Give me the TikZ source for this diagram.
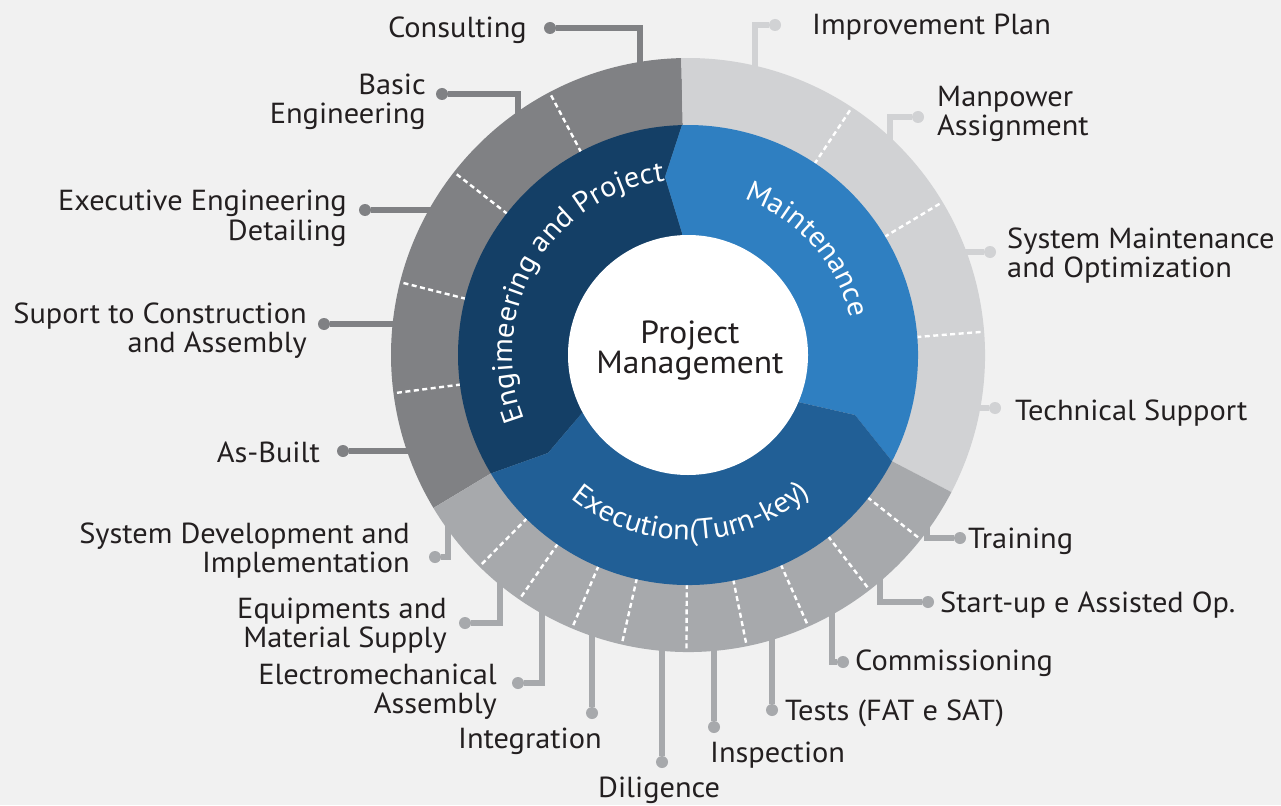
\documentclass[tikz,border=0pt]{standalone}
\usepackage{fontspec}
\setmainfont[FakeStretch=1.048]{PT Sans}
\usetikzlibrary{calc,decorations.text}
\definecolor{bg}{HTML}{F1F1F1}
\definecolor{dgray}{HTML}{808184}
\definecolor{lgray}{HTML}{D1D2D4}
\definecolor{mgray}{HTML}{A7A9AC}
\definecolor{engblue}{HTML}{143F66}
\definecolor{mntblue}{HTML}{2F7FC1}
\definecolor{exeblue}{HTML}{215F96}
\definecolor{txt}{HTML}{231F20}
\newcommand{\lblfont}{\fontsize{29}{29}\selectfont}
\newcommand{\pmfont}{\fontsize{32}{30}\selectfont}
\newcommand{\curvefont}{\fontsize{29}{29}\selectfont}
\begin{document}
\begin{tikzpicture}[x=1pt,y=1pt,
  lbl/.style={font=\lblfont, text=txt, inner sep=0pt, align=right, anchor=base east},
  lblr/.style={font=\lblfont, text=txt, inner sep=0pt, align=left, anchor=base west},
  lblc/.style={font=\pmfont, text=txt, inner sep=0pt, align=center, anchor=base},
  divider/.style={white, line width=2.4pt, dash pattern=on 5pt off 3.5pt},
  conn/.style={line width=6pt},
  dot/.style={circle, inner sep=0pt, minimum size=12pt},
  curve/.style={decorate, decoration={text along path, text align=center, text color=white}},
  ]
\useasboundingbox (0,0) rectangle (1281,-805);
\fill[bg] (0,0) rectangle (1281,-805);
\coordinate (c) at (688,-355);

% outer ring
\fill[dgray] (c) -- ++(91.3:297) arc[start angle=91.3, end angle=211, radius=297] -- cycle;
\fill[lgray] (c) -- ++(-27.5:297) arc[start angle=-27.5, end angle=91.3, radius=297] -- cycle;
\fill[mgray] (c) -- ++(211:297) arc[start angle=211, end angle=332.5, radius=297] -- cycle;
\foreach \a in {117.8,142,165.8,187.4,56.5,31,4.5,-38.4,-52.3,-66.1,-78.6,-90.3,-102.9,-113,-124.6,-134.6}
  \draw[divider] (c) ++(\a:229) -- ++(\a:67);

% inner ring
\fill[engblue] ($(c)+(91.5:230)$) arc[start angle=91.5, end angle=211, radius=230] -- (548,-453) -- (582,-413) -- (c) -- (682,-233) -- (665,-177) -- cycle;
\fill[mntblue] (c) -- (798,-402) -- (855,-415) -- ($(c)+(-27.5:230)$) arc[start angle=-27.5, end angle=91.5, radius=230] -- (665,-177) -- (682,-233) -- cycle;
\fill[exeblue] (c) -- (582,-413) -- (548,-453) -- ($(c)+(211:230)$) arc[start angle=211, end angle=332.5, radius=230] -- (855,-415) -- (798,-402) -- cycle;

\node[circle, fill=white, minimum size=240pt, inner sep=0pt] (pm) at (c) {};
\node[lblc] (pmtext) at (690,-373) {Project\\Management};

\path[curve, decoration={text={|\curvefont|Engimeering and Project}}] ($(c)+(222:176)$) arc[start angle=222, end angle=77, radius=176];
\path[curve, decoration={text={|\curvefont|Maintenance}}] ($(c)+(100:166)$) arc[start angle=100, end angle=-17, radius=166];
\path[curve, decoration={text={|\curvefont|Execution(Turn-key)}}] ($(c)+(-162:185)$) arc[start angle=-162, end angle=-16, radius=185];

% ---- Engineering connectors
\coordinate (r1) at (640,-68);  \node[dot, fill=dgray] (d1) at (550,-28) {};
\coordinate (r2) at (518,-118); \node[dot, fill=dgray] (d2) at (442,-94) {};
\coordinate (r3) at (436,-210); \node[dot, fill=dgray] (d3) at (365,-210) {};
\coordinate (r4) at (400,-324); \node[dot, fill=dgray] (d4) at (324,-324) {};
\coordinate (r5) at (414,-451); \node[dot, fill=dgray] (d5) at (343,-451) {};
\draw[conn, dgray] (r1) |- (d1);
\draw[conn, dgray] (r2) |- (d2);
\draw[conn, dgray] (r3) -- (d3);
\draw[conn, dgray] (r4) -- (d4);
\draw[conn, dgray] (r5) -- (d5);
\node[lbl] (l1) at (527,-38) {Consulting};
\node[lbl] (l2) at (426,-124) {Basic\\Engineering};
\node[lbl] (l3) at (347,-240) {Executive Engineering\\Detailing};
\node[lbl] (l4) at (307,-352) {Suport to Construction\\and Assembly};
\node[lbl] (l5) at (320,-462) {As-Built};

% ---- Maintenance connectors
\coordinate (r6) at (755,-72);  \node[dot, fill=lgray] (d6) at (775,-25) {};
\coordinate (r7) at (890,-143); \node[dot, fill=lgray] (d7) at (918,-117) {};
\coordinate (r8) at (958,-252); \node[dot, fill=lgray] (d8) at (990,-252) {};
\coordinate (r9) at (974,-408); \node[dot, fill=lgray] (d9) at (995,-408) {};
\draw[conn, lgray] (r6) |- (d6);
\draw[conn, lgray] (r7) |- (d7);
\draw[conn, lgray] (r8) -- (d8);
\draw[conn, lgray] (r9) -- (d9);
\node[lblr] (l6) at (812,-35) {Improvement Plan};
\node[lblr] (l7) at (937,-136) {Manpower\\Assignment};
\node[lblr] (l8) at (1007,-277) {System Maintenance\\and Optimization};
\node[lblr] (l9) at (1015,-420) {Technical Support};

% ---- Execution connectors
\coordinate (r10) at (927,-522); \node[dot, fill=mgray] (d10) at (960,-538) {};
\coordinate (r11) at (880,-574); \node[dot, fill=mgray] (d11) at (928,-602) {};
\coordinate (r12) at (832,-608); \node[dot, fill=mgray] (d12) at (843,-662) {};
\coordinate (r13) at (772,-634); \node[dot, fill=mgray] (d13) at (772,-710) {};
\coordinate (r14) at (714,-645); \node[dot, fill=mgray] (d14) at (714,-727) {};
\coordinate (r15) at (662,-645); \node[dot, fill=mgray] (d15) at (662,-762) {};
\coordinate (r16) at (592,-630); \node[dot, fill=mgray] (d16) at (592,-713) {};
\coordinate (r17) at (542,-608); \node[dot, fill=mgray] (d17) at (518,-683) {};
\coordinate (r18) at (500,-580); \node[dot, fill=mgray] (d18) at (465,-623) {};
\coordinate (r19) at (448,-520); \node[dot, fill=mgray] (d19) at (435,-557) {};
\draw[conn, mgray] (r10) |- (d10);
\draw[conn, mgray] (r11) |- (d11);
\draw[conn, mgray] (r12) |- (d12);
\draw[conn, mgray] (r13) -- (d13);
\draw[conn, mgray] (r14) -- (d14);
\draw[conn, mgray] (r15) -- (d15);
\draw[conn, mgray] (r16) -- (d16);
\draw[conn, mgray] (r17) |- (d17);
\draw[conn, mgray] (r18) |- (d18);
\draw[conn, mgray] (r19) |- (d19);
\node[lblr] (l10) at (968,-548) {Training};
\node[lblr] (l11) at (940,-612) {Start-up e Assisted Op.};
\node[lblr] (l12) at (855,-670) {Commissioning};
\node[lblr] (l13) at (785,-720) {Tests (FAT e SAT)};
\node[lblr] (l14) at (710,-762) {Inspection};
\node[lblr] (l15) at (598,-797) {Diligence};
\node[lbl] (l16) at (602,-748) {Integration};
\node[lbl] (l17) at (497,-713) {Electromechanical\\Assembly};
\node[lbl] (l18) at (447,-647) {Equipments and\\Material Supply};
\node[lbl] (l19) at (410,-572) {System Development and\\Implementation};
\end{tikzpicture}
\end{document}
